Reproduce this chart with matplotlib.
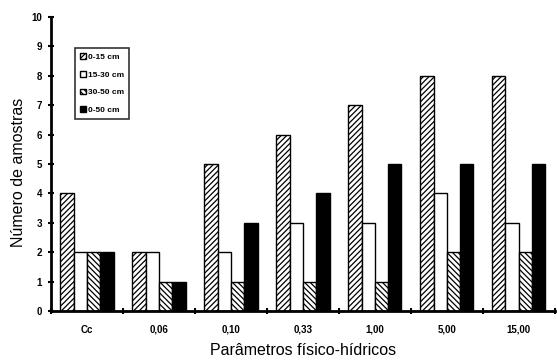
import numpy as np
import matplotlib
matplotlib.use("Agg")
import matplotlib.pyplot as plt

# ----------------------------------------------------------------------
# data
# ----------------------------------------------------------------------
categorias = ["Cc", "0,06", "0,10", "0,33", "1,00", "5,00", "15,00"]
camadas = ["0-15 cm", "15-30 cm", "30-50 cm", "0-50 cm"]
v_0_15 = [4, 2, 5, 6, 7, 8, 8]
v_15_30 = [2, 2, 2, 3, 3, 4, 3]
v_30_50 = [2, 1, 1, 1, 1, 2, 2]
v_0_50 = [2, 1, 3, 4, 5, 5, 5]

series = [v_0_15, v_15_30, v_30_50, v_0_50]
faces = ["white", "white", "white", "black"]
hatches = ["//////", None, "\\\\\\\\\\\\", None]

plt.rcParams["font.family"] = ["Liberation Sans", "DejaVu Sans"]
plt.rcParams["hatch.linewidth"] = 0.9
fig = plt.figure(figsize=(5.57, 3.61), dpi=100)
ax = fig.add_axes([0.0916, 0.1385, 0.9044, 0.8145])

x = np.arange(len(categorias))
w = 0.185
for i, (vals, fc, h) in enumerate(zip(series, faces, hatches)):
    ax.bar(x + (i - 1.5) * w, vals, width=w, color=fc, edgecolor="black",
           hatch=h, linewidth=1.0, label=camadas[i])

ax.set_xlim(-0.5, len(categorias) - 0.5)
ax.set_ylim(0, 10)
ax.set_yticks(range(0, 11))
ax.set_xticks(x)
ax.set_xticks(np.arange(-0.5, len(categorias)), minor=True)
ax.set_xticklabels(categorias, fontsize=7, fontweight="bold")
ax.set_yticklabels([str(v) for v in range(0, 11)], fontsize=7,
                   fontweight="bold")

for s in ["top", "right"]:
    ax.spines[s].set_visible(False)
ax.spines["left"].set_linewidth(2)
ax.spines["bottom"].set_linewidth(2)
ax.tick_params(axis="y", direction="inout", length=5, width=1.5, pad=4)
ax.tick_params(axis="x", which="major", length=0, pad=10)
ax.tick_params(axis="x", which="minor", direction="inout", length=5, width=1.5)

ax.set_ylabel("Número de amostras", fontsize=11.5)
ax.yaxis.set_label_coords(-0.05, 0.47)
ax.set_xlabel("Parâmetros físico-hídricos", fontsize=11.5)
ax.xaxis.set_label_coords(0.5, -0.11)

leg = ax.legend(loc="upper left", bbox_to_anchor=(0.047, 0.895),
                prop={"size": 6, "weight": "bold"},
                frameon=True, fancybox=False, edgecolor="black",
                handlelength=0.7, handleheight=0.7, handletextpad=0.3,
                labelspacing=1.2, borderpad=0.6, borderaxespad=0)
leg.get_frame().set_linewidth(1.2)

fig.savefig("out.png", dpi=100)
